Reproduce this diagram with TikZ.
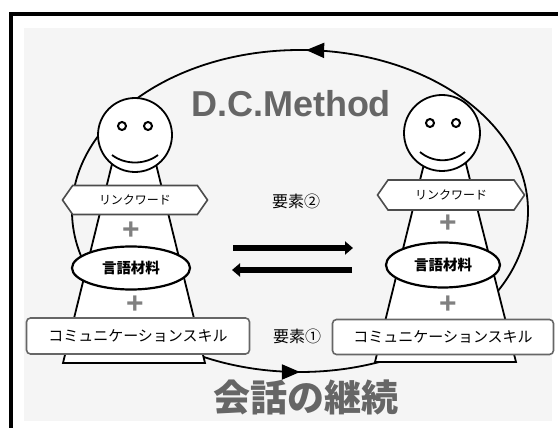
\documentclass[tikz,border=0pt]{standalone}
\usepackage{fontspec}
\setmainfont{Liberation Sans}
\newfontfamily\jp{Noto Sans CJK JP}
\usetikzlibrary{positioning,calc,shapes.geometric,shapes.symbols,arrows.meta,decorations.markings}

\begin{document}
\begin{tikzpicture}
    [x=1pt, y=-1pt,
     outline/.style={draw=black, line width=1.8pt},
     face/.style={circle, outline, fill=white, inner sep=0pt},
     tag/.style={signal, signal to=west and east, signal pointer angle=110,
       draw=black!70, line width=1.6pt, fill=white, inner sep=0pt,
       minimum width=145pt, minimum height=29pt, font=\jp\fontsize{12}{12}\selectfont},
     material/.style={ellipse, draw=black, line width=2.2pt, fill=white, inner sep=0pt,
       font=\jp\bfseries\fontsize{14.5}{14.5}\selectfont},
     skill/.style={rectangle, rounded corners=4pt, draw=black!60, line width=1.6pt,
       fill=white, minimum width=223pt, minimum height=36pt, inner sep=0pt,
       font=\jp\fontsize{15}{15}\selectfont},
     plus/.style={text=black!50, inner sep=0pt, font=\bfseries\fontsize{30}{30}\selectfont},
     caption/.style={text=black!60, inner sep=0pt},
     element/.style={inner sep=0pt, font=\jp\fontsize{16}{16}\selectfont},
     exchange/.style={line width=6.5pt, -{Triangle[length=8pt,width=13pt]}}]
    % Frame
    \useasboundingbox (0,0) rectangle (558,428);
    \fill [white] (0,0) rectangle (558,428);
    \fill [black!4] (24,28) rectangle (552,421);
    \draw [line width=3.5pt] (11,428) -- (11,14) -- (558,14);

    % Cycle
    \draw [line width=1.8pt, postaction={decorate}, decoration={markings,
        mark=at position 0.25 with {\arrowreversed{Triangle[length=18pt,width=15pt]}},
        mark=at position 0.755 with {\arrowreversed{Triangle[length=18pt,width=15pt]}}}]
        (300,211) ellipse [x radius=228, y radius=161];

    % Left speaker
    \draw [outline, fill=white] (113,160) -- (155,160) -- (205,363) -- (63,363) -- cycle;
    \node (lhead) at (135,135) [face, minimum size=74pt] {};
    \draw [line width=2pt] ($(lhead)+(-13,-9)$) circle (4);
    \draw [line width=2pt] ($(lhead)+(13,-9)$) circle (4);
    \draw [line width=1.8pt] ($(lhead)+(-23,20)$) .. controls ($(lhead)+(-10,30)$) and ($(lhead)+(10,30)$) .. ($(lhead)+(23,20)$);
    \node (ltag) at (135,200) [tag] {リンクワード};
    \node (lplus1) at (131,231) [plus] {+};
    \node (lmat) at (131,268) [material, minimum width=118pt, minimum height=43pt] {言語材料};
    \node (lplus2) at (135,305) [plus] {+};
    \node (lskill) at (138,336) [skill] {コミュニケーションスキル};

    % Right speaker
    \draw [outline, fill=white] (425,160) -- (465,160) -- (516,362) -- (375,362) -- cycle;
    \node (rhead) at (442,133) [face, minimum size=76pt] {};
    \draw [line width=2pt] ($(rhead)+(-12,-10)$) circle (4);
    \draw [line width=2pt] ($(rhead)+(14,-10)$) circle (4);
    \draw [line width=1.8pt] ($(rhead)+(-22,19)$) .. controls ($(rhead)+(-9,30)$) and ($(rhead)+(10,30)$) .. ($(rhead)+(23,19)$);
    \node (rtag) at (451,195) [tag, minimum width=147pt, minimum height=30pt] {リンクワード};
    \node (rplus1) at (448,224) [plus] {+};
    \node (rmat) at (443,265) [material, minimum width=114pt, minimum height=45pt] {言語材料};
    \node (rplus2) at (448,305) [plus] {+};
    \node (rskill) at (443,337) [skill, minimum width=221pt, minimum height=35pt] {コミュニケーションスキル};

    % Exchange between the speakers
    \node (elem2) at (296,201) [element] {要素②};
    \node (elem1) at (297,336) [element] {要素①};
    \coordinate (fwdfrom) at (233,248);
    \coordinate (fwdto) at (353,248);
    \coordinate (backfrom) at (352,270);
    \coordinate (backto) at (232,270);
    \draw [exchange] (fwdfrom) -- (fwdto);
    \draw [exchange] (backfrom) -- (backto);

    % Titles
    \node (title) at (291,104) [caption, font=\bfseries\fontsize{36}{36}\selectfont] {D.C.Method};
    \node (goal) at (306,397) [caption, font=\jp\bfseries\fontsize{37}{37}\selectfont] {会話の継続};
\end{tikzpicture}
\end{document}
